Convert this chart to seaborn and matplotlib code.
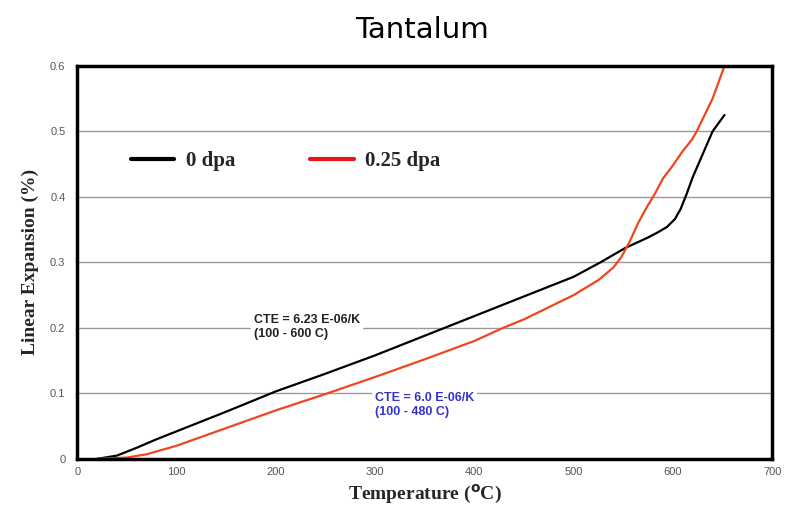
import numpy as np
import pandas as pd
import matplotlib
matplotlib.use("Agg")
import matplotlib.pyplot as plt
import seaborn as sns

# values
temp_0dpa = [20, 40, 60, 80, 100, 150, 200, 250, 300, 350, 400, 450, 500, 527,
             552, 575, 585, 594, 602, 608, 614, 620, 630, 640, 652]
exp_0dpa = [0.0, 0.005, 0.017, 0.03, 0.042, 0.072, 0.103, 0.13, 0.158, 0.188,
            0.218, 0.248, 0.278, 0.3, 0.322, 0.338, 0.346, 0.354, 0.366, 0.382,
            0.405, 0.43, 0.465, 0.5, 0.525]

temp_025dpa = [20, 50, 70, 100, 150, 200, 252, 300, 350, 400, 429, 450, 500, 525,
               540, 548, 556, 565, 574, 582, 590, 600, 610, 619, 624, 640, 652]
exp_025dpa = [0.0, 0.002, 0.007, 0.02, 0.047, 0.074, 0.1, 0.125, 0.152, 0.18,
              0.2, 0.213, 0.25, 0.273, 0.292, 0.308, 0.33, 0.36, 0.385, 0.405,
              0.428, 0.448, 0.47, 0.487, 0.5, 0.55, 0.6]

x_ticks = [0, 100, 200, 300, 400, 500, 600, 700]
y_ticks = [0, 0.1, 0.2, 0.3, 0.4, 0.5, 0.6]

df = pd.concat([
    pd.DataFrame({"T": temp_0dpa, "LE": exp_0dpa, "dose": "0 dpa"}),
    pd.DataFrame({"T": temp_025dpa, "LE": exp_025dpa, "dose": "0.25 dpa"}),
])

sns.set_style("white")
fig = plt.figure(figsize=(7.96, 5.15), dpi=100)
ax = fig.add_axes([0.097, 0.109, 0.873, 0.763])

sns.lineplot(data=df, x="T", y="LE", hue="dose", ax=ax,
             palette={"0 dpa": "black", "0.25 dpa": "#f0461e"},
             linewidth=1.6, sort=False, estimator=None)

ax.set_xlim(0, 700)
ax.set_ylim(0, 0.6)
ax.set_xticks(x_ticks)
ax.set_xticklabels([str(t) for t in x_ticks])
ax.set_yticks(y_ticks)
ax.set_yticklabels(["0", "0.1", "0.2", "0.3", "0.4", "0.5", "0.6"])
ax.tick_params(axis="both", labelsize=8, labelcolor="#555555", colors="#888888")
ax.tick_params(axis="y", length=5, width=1)
ax.tick_params(axis="x", length=0, pad=6)
for lbl in ax.get_xticklabels() + ax.get_yticklabels():
    lbl.set_family(["Liberation Sans Narrow", "Liberation Sans"])

ax.yaxis.grid(True, color="#9a9a9a", linewidth=1)
ax.set_axisbelow(True)
for sp in ax.spines.values():
    sp.set_color("black")
    sp.set_linewidth(2.5)

ax.set_xlabel("Temperature ($^{\\mathbf{o}}$C)", family="Liberation Serif",
              fontweight="bold", fontsize=14, labelpad=4)
ax.set_ylabel("Linear Expansion (%)", family="Liberation Serif",
              fontweight="bold", fontsize=14, labelpad=8)

fig.text(0.53, 0.942, "Tantalum", ha="center", va="center", fontsize=21,
         family="DejaVu Sans", color="black")

leg = ax.legend(loc="upper left", bbox_to_anchor=(0.05, 0.83), ncol=2,
                frameon=False, handlelength=2.1, handletextpad=0.55,
                columnspacing=3.6,
                prop={"family": "Liberation Serif", "weight": "bold", "size": 15})
for h in leg.get_lines():
    h.set_linewidth(3)
leg.get_lines()[1].set_color("#e3161e")

ax.text(178, 0.181, "CTE = 6.23 E-06/K\n(100 - 600 C)", fontsize=9,
        fontweight="bold", color="#222222", family="Liberation Sans",
        va="bottom", ha="left", linespacing=1.25,
        bbox=dict(facecolor="white", edgecolor="none", pad=2))
ax.text(300, 0.062, "CTE = 6.0 E-06/K\n(100 - 480 C)", fontsize=9,
        fontweight="bold", color="#3333cc", family="Liberation Sans",
        va="bottom", ha="left", linespacing=1.25,
        bbox=dict(facecolor="white", edgecolor="none", pad=2))

fig.savefig("out.png", dpi=100)
